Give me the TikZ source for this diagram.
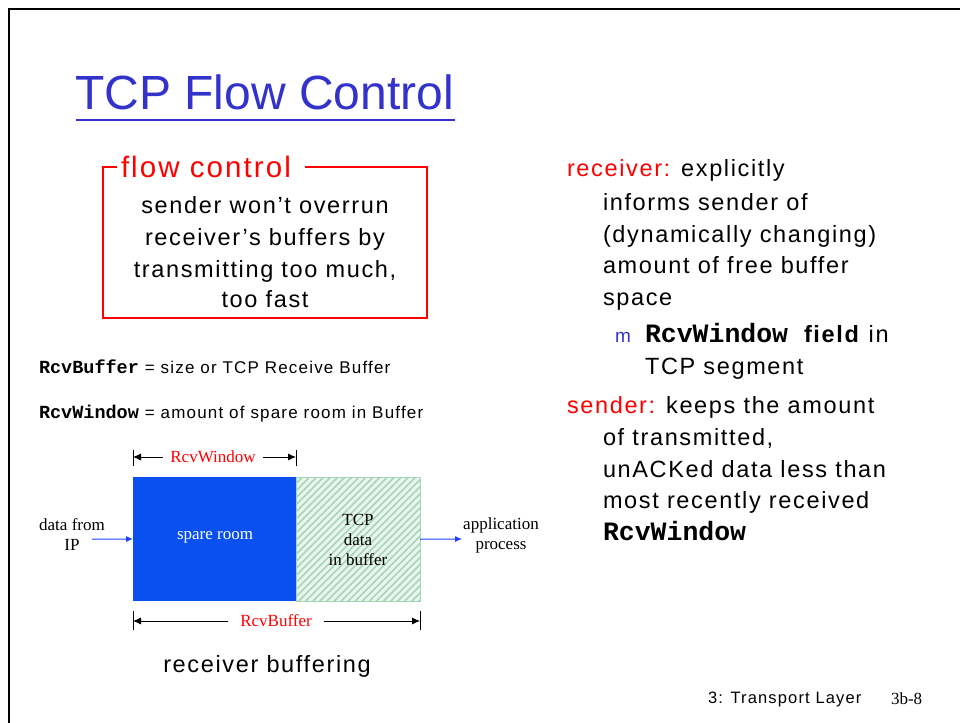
\documentclass[tikz,border=0pt]{standalone}
\usepackage{fontspec}
\setmainfont{Liberation Sans}
\newfontfamily\bodyf{Liberation Sans}[LetterSpace=7]
\newfontfamily\titlef{Liberation Sans}
\newfontfamily\serf{Liberation Serif}
\newfontfamily\monof{Liberation Mono}
\usetikzlibrary{patterns.meta,arrows.meta}
\definecolor{titleblue}{HTML}{3333CC}
\definecolor{slidered}{HTML}{FF0000}
\definecolor{bufblue}{HTML}{0A50F0}
\definecolor{hatchgreen}{HTML}{A6D4B6}
\definecolor{palegreen}{HTML}{EAF5EE}
\definecolor{flowblue}{HTML}{2040FF}
\tikzset{
  txt/.style={anchor=base west, inner sep=0pt, outer sep=0pt, font=\bodyf\fontsize{23.5bp}{32bp}\selectfont},
  ctxt/.style={anchor=base, inner sep=0pt, outer sep=0pt, font=\bodyf\fontsize{23.5bp}{32bp}\selectfont},
  smalltxt/.style={anchor=base west, inner sep=0pt, outer sep=0pt, font=\bodyf\fontsize{17bp}{18bp}\selectfont},
  diag/.style={inner sep=0pt, outer sep=0pt, align=center, font=\serf\fontsize{17bp}{20bp}\selectfont},
  dimline/.style={line width=0.8bp, {Latex[length=8bp,width=7bp]}-{Latex[length=8bp,width=7bp]}},
  dimbar/.style={line width=1bp},
  flowarrow/.style={flowblue, line width=1bp, -{Latex[length=7bp,width=6bp]}},
  bufbox/.style={anchor=north west, inner sep=0pt, outer sep=0pt, minimum height=124bp}
}
\newcommand{\mcode}[1]{{\monof\bfseries #1}}
\begin{document}
\begin{tikzpicture}[x=1bp,y=-1bp]
\useasboundingbox (0,0) rectangle (960,723);
\fill[white] (0,0) rectangle (960,723);
% slide frame
\draw[line width=2.5bp] (9,723) -- (9,9) -- (960,9);
% title
\node[anchor=base west, inner sep=0pt, text=titleblue, font=\titlef\fontsize{48bp}{48bp}\selectfont] (title) at (75,110) {TCP Flow Control};
\draw[titleblue, line width=2.5bp] (76,120) -- (455,120);
% flow control box
\draw[slidered, line width=2bp] (117,167) -- (103,167) -- (103,318) -- (427,318) -- (427,167) -- (305,167);
\node[txt, text=slidered, font=\bodyf\fontsize{29.5bp}{30bp}\selectfont] (fc) at (121,178) {flow control};
\node[ctxt] (fc1) at (265,213) {sender won’t overrun};
\node[ctxt] (fc2) at (265,245) {receiver’s buffers by};
\node[ctxt] (fc3) at (265,277) {transmitting too much,};
\node[ctxt] (fc4) at (265,307) {too fast};
% definitions
\node[smalltxt] (d1) at (39,373) {\fontsize{18.5bp}{18bp}\mcode{RcvBuffer}\fontsize{17bp}{18bp}\bodyf{} = size or TCP Receive Buffer};
\node[smalltxt] (d2) at (39,418) {\fontsize{18.5bp}{18bp}\mcode{RcvWindow}\fontsize{17bp}{18bp}\bodyf{} = amount of spare room in Buffer};
% buffer diagram
\node[bufbox, fill=bufblue, minimum width=163bp] (spare) at (133,477) {};
\node[bufbox, draw=hatchgreen, line width=0.8bp, fill=palegreen, minimum width=124bp] (tcpdata) at (296,477) {};
\fill[pattern={Lines[angle=45,distance=5bp,line width=1.6bp]}, pattern color=hatchgreen] (tcpdata.north west) rectangle (tcpdata.south east);
\node[diag, text=white] (sparelbl) at (215,537) {spare room};
\node[diag] (tcplbl) at (358,540) {TCP\\data\\in buffer};
\node[diag] (ip) at (72,535) {data from\\IP};
\node[diag] (app) at (501,535) {application\\process};
\coordinate (ipin) at (92,539);
\coordinate (appout) at (462,539);
\draw[flowarrow] (ipin) -- (spare.west);
\draw[flowarrow] (tcpdata.east) -- (appout);
% RcvWindow dimension
\coordinate (rwl) at (spare.north west |- 0,457);
\coordinate (rwr) at (spare.north east |- 0,457);
\draw[dimline] (rwl) -- (rwr);
\draw[dimbar] ([yshift=7bp]rwl) -- ([yshift=-9bp]rwl);
\draw[dimbar] ([yshift=7bp]rwr) -- ([yshift=-9bp]rwr);
\node[diag, fill=white, inner xsep=7bp, inner ysep=2bp, text=slidered] (rwlbl) at (213,457) {RcvWindow};
% RcvBuffer dimension
\coordinate (rbl) at (spare.south west |- 0,621);
\coordinate (rbr) at (tcpdata.south east |- 0,621);
\draw[dimline] (rbl) -- (rbr);
\draw[dimbar] ([yshift=10bp]rbl) -- ([yshift=-9bp]rbl);
\draw[dimbar] ([yshift=10bp]rbr) -- ([yshift=-9bp]rbr);
\node[diag, fill=white, inner xsep=12bp, inner ysep=2bp, text=slidered] (rblbl) at (276,621) {RcvBuffer};
\node[ctxt] (cap) at (267,672) {receiver buffering};
% right column
\node[txt] (r1) at (567,177) {\textcolor{slidered}{receiver:} explicitly};
\node[txt] (r2) at (603,210) {informs sender of};
\node[txt] (r3) at (603,242) {(dynamically changing)};
\node[txt] (r4) at (603,273) {amount of free buffer};
\node[txt] (r5) at (603,305) {space};
\node[txt, text=titleblue, font=\titlef\fontsize{19bp}{22bp}\selectfont] (bul) at (615,342) {m};
\node[txt] (s1) at (645,342) {{\fontsize{26.5bp}{30bp}\monof\bfseries RcvWindow }\textbf{field} in};
\node[txt] (s2) at (645,374) {TCP segment};
\node[txt] (t1) at (567,413) {\textcolor{slidered}{sender:} keeps the amount};
\node[txt] (t2) at (603,445) {of transmitted,};
\node[txt] (t3) at (603,477) {unACKed data less than};
\node[txt] (t4) at (603,508) {most recently received};
\node[txt, font=\monof\bfseries\fontsize{26.5bp}{30bp}\selectfont] (t5) at (603,540) {RcvWindow};
% footer
\node[txt, font=\bodyf\fontsize{16.5bp}{18bp}\selectfont] (foot) at (708,703) {3: Transport Layer};
\node[txt, font=\serf\fontsize{17bp}{20bp}\selectfont] (pg) at (891,704) {3b-8};
\end{tikzpicture}
\end{document}
